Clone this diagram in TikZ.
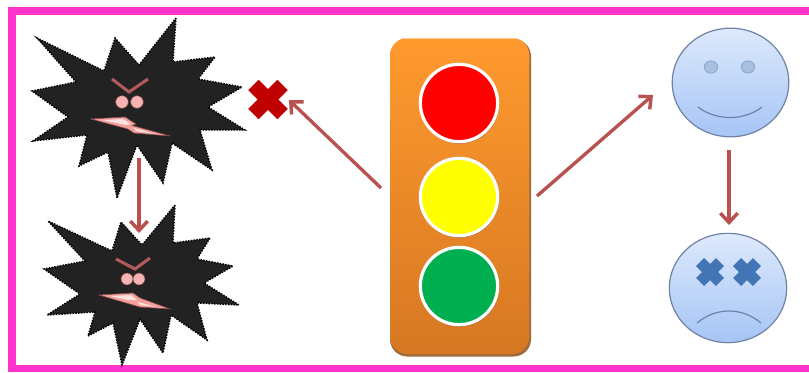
\documentclass[tikz,border=0pt]{standalone}
\usetikzlibrary{arrows.meta,shapes.geometric}
\definecolor{mag}{HTML}{FF33CC}
\definecolor{arr}{HTML}{B8514F}
\definecolor{starc}{HTML}{222222}
\definecolor{brow}{HTML}{B05A5C}
\definecolor{eyepink}{HTML}{F6B3B3}
\definecolor{mouthpink}{HTML}{F2A09C}
\definecolor{crossred}{HTML}{C00000}
\definecolor{facetop}{HTML}{DDE9FC}
\definecolor{facebot}{HTML}{A6C5F6}
\definecolor{faceline}{HTML}{6F83A5}
\definecolor{facemark}{HTML}{4175B6}
\definecolor{boxtop}{HTML}{FF9A2E}
\definecolor{boxmid}{HTML}{EE8A28}
\definecolor{boxbot}{HTML}{D67823}
\definecolor{boxshade}{HTML}{9C6A3C}
\definecolor{lampred}{HTML}{FF0000}
\definecolor{lampyellow}{HTML}{FFFF00}
\definecolor{lampgreen}{HTML}{00B050}
\tikzset{
  arrowline/.style={draw=arr,line width=2.5pt,-{Straight Barb[length=7pt,width=13pt,line width=2.6pt]}},
  blast/.style={fill=starc,draw=black,line width=1.1pt,densely dotted},
  browline/.style={draw=brow,line width=2.3pt},
  eye/.style={circle,fill=eyepink,draw=brow!70!black,line width=.4pt,inner sep=0pt,minimum size=#1},
  mouth/.style={fill=mouthpink,draw=brow!80!black,line width=.4pt},
  mouthlight/.style={fill=white!70!mouthpink},
  lamp/.style={circle,draw=white,line width=2.4pt,inner sep=0pt,minimum size=58pt},
  lampshade/.style={circle,fill=boxshade,inner sep=0pt,minimum size=59.5pt},
  face/.style={draw=faceline,line width=.9pt,top color=facetop,bottom color=facebot},
  smileeye/.style={ellipse,fill=facemark!45!white,draw=facemark!60!white,line width=.8pt,inner sep=0pt,minimum width=10pt,minimum height=9pt},
  faceline2/.style={draw=faceline,line width=.9pt},
  xmark/.style={rectangle,fill=facemark,minimum width=21pt,minimum height=8.5pt,inner sep=0pt},
  crossarm/.style={rectangle,fill=crossred,minimum width=31pt,minimum height=11pt,inner sep=0pt},
}
\begin{document}
\begin{tikzpicture}[x=.75pt,y=-.75pt]
\useasboundingbox (0,0) rectangle (809,372);
\fill[white] (0,0) rectangle (809,372);
% frame (open at the right, where the picture is cut)
\fill[mag] (8,7) rectangle (809,15);
\fill[mag] (8,7) rectangle (16,372);
\fill[mag] (8,365) rectangle (809,372);
% blasts
\path[blast] (176,18)--(173,62)--(215,57)--(198,79)--(242,87)--(208,107)--(245,130)--(200,130)--(212,170)--(172,143)--(163,183)--(137,145)--(117,198)--(108,152)--(79,166)--(87,135)--(33,141)--(68,117)--(32,91)--(76,82)--(37,38)--(104,71)--(115,38)--(139,65)--cycle;
\path[blast] (175,205)--(173,243)--(210,238)--(197,259)--(233,266)--(204,283)--(239,305)--(197,303)--(207,340)--(171,315)--(163,353)--(140,319)--(122,365)--(113,323)--(88,336)--(95,312)--(47,315)--(80,294)--(44,269)--(85,261)--(48,221)--(112,251)--(121,222)--(142,245)--cycle;
% faces on blasts
\draw[browline] (112,79)--(129,92)--(148,79);
\node[eye=9.5pt] (e1) at (122,102) {};
\node[eye=9.5pt] (e2) at (137,102) {};
\path[mouth] (91,119)--(125,117)--(136,124)--(132,125.5)--(170,136)--(134,133)--(128,129)--cycle;
\path[mouthlight] (102,120)--(123,119)--(131,124)--(126,125)--cycle;
\path[mouthlight] (134,128)--(156,134)--(136,131)--cycle;
\draw[browline] (116,259)--(135,269)--(150,258);
\node[eye=9pt] (e3) at (127,279) {};
\node[eye=9pt] (e4) at (139,279) {};
\path[mouth] (99,295)--(133,293)--(140,298)--(170,309)--(140,307)--cycle;
\path[mouthlight] (110,296)--(131,295)--(137,300)--(128,300)--cycle;
\path[mouthlight] (138,302)--(156,307)--(140,305)--cycle;
% red cross
\node[crossarm,rotate=45] (crossa) at (268,99.5) {};
\node[crossarm,rotate=-45] (crossb) at (268,99.5) {};
% traffic light
\fill[boxshade,rounded corners=13pt] (390,39) rectangle (531,356.5);
\node[rectangle,rounded corners=13pt,top color=boxtop,middle color=boxmid,bottom color=boxbot,minimum width=104.5pt,minimum height=237pt,inner sep=0pt] (light) at (459.7,196) {};
\draw[boxtop!55!white,line width=.7pt] (402,38) -- (517,38);
\node[lampshade] (rs) at (459.5,104) {};
\node[lampshade] (ys) at (459.5,198) {};
\node[lampshade] (gs) at (459.5,287) {};
\node[lamp,fill=lampred] (red) at (459,103) {};
\node[lamp,fill=lampyellow] (yellow) at (459,197) {};
\node[lamp,fill=lampgreen] (green) at (459,286) {};
% smiley
\node[ellipse,face,minimum width=87.5pt,minimum height=81.5pt,inner sep=0pt] (happy) at (730.5,82.5) {};
\node[smileeye] (he1) at (711,67) {};
\node[smileeye] (he2) at (748,67) {};
\draw[faceline2] (698,107) .. controls (716,121) and (744,121) .. (762,107);
% sad
\node[ellipse,face,minimum width=88pt,minimum height=82pt,inner sep=0pt] (sad) at (728,288) {};
\foreach \n/\cx in {s1/710,s2/747}{
  \node[xmark,rotate=45] (\n a) at (\cx,272) {};
  \node[xmark,rotate=-45] (\n b) at (\cx,272) {};
}
\draw[faceline2] (697,323) .. controls (716,307) and (742,307) .. (761,323);
% arrows
\coordinate (a1s) at (139,158);
\coordinate (a1e) at (139,233);
\coordinate (a2s) at (381,188);
\coordinate (a2e) at (289,100);
\coordinate (a3s) at (537,196);
\coordinate (a3e) at (653,95);
\coordinate (a4s) at (729,150);
\coordinate (a4e) at (729,225);
\draw[arrowline] (a1s)--(a1e);
\draw[arrowline] (a2s)--(a2e);
\draw[arrowline] (a3s)--(a3e);
\draw[arrowline] (a4s)--(a4e);
\end{tikzpicture}
\end{document}
